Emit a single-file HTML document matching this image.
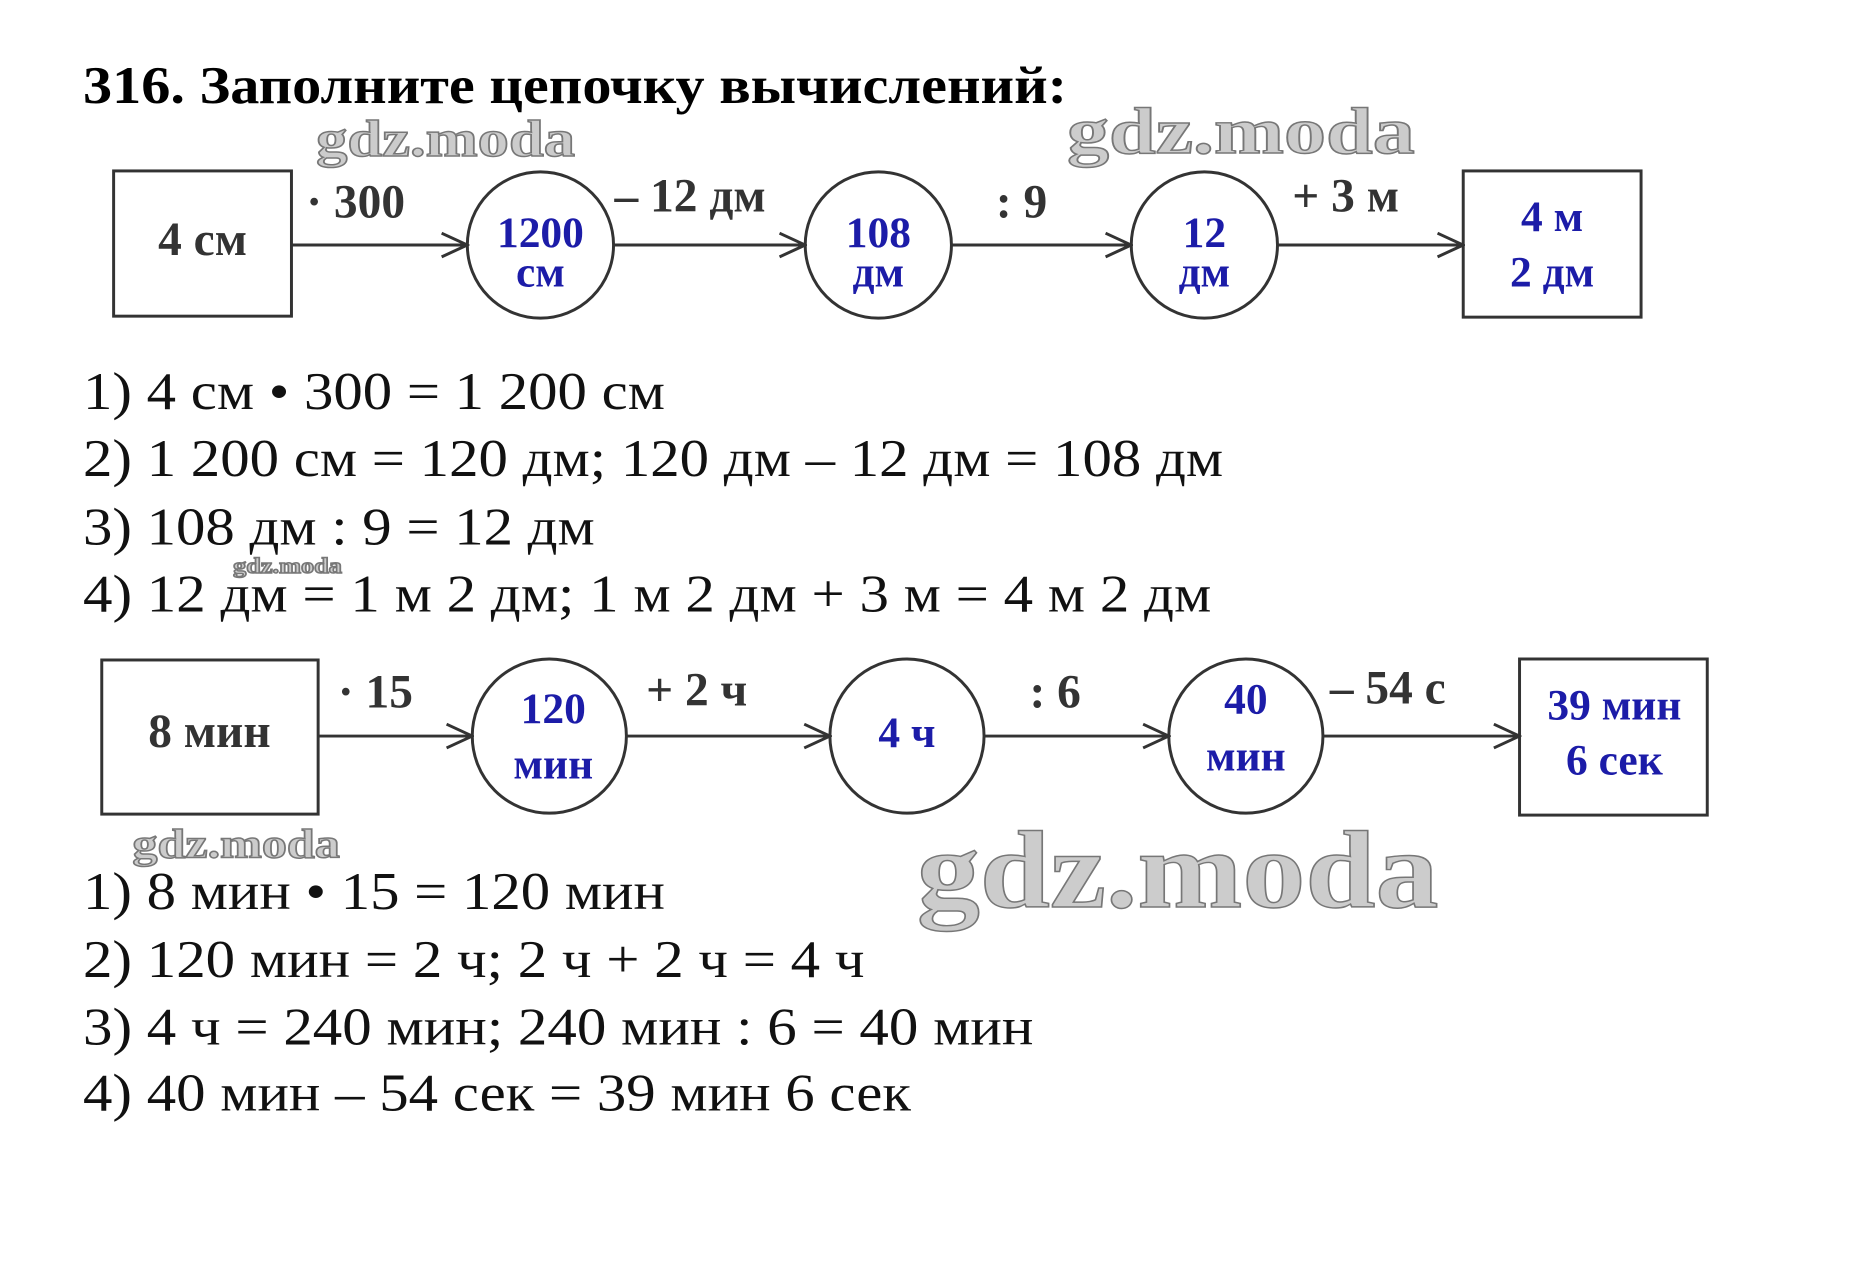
<!DOCTYPE html>
<html><head><meta charset="utf-8"><style>
html,body{margin:0;padding:0;background:#fff;}
svg{display:block;}
</style></head><body>
<svg width="1860" height="1271" viewBox="0 0 1860 1271" xmlns="http://www.w3.org/2000/svg" font-family="Liberation Serif, serif">
<defs>
<marker id="a" markerWidth="30" markerHeight="30" refX="28" refY="15" orient="auto" markerUnits="userSpaceOnUse">
<path d="M2,3 L28,15 L2,27" fill="none" stroke="#333" stroke-width="3"/>
</marker>
</defs>
<g transform="scale(0.988)">
<text x="84" y="104" font-size="54" font-weight="bold" textLength="996" lengthAdjust="spacingAndGlyphs">316. Заполните цепочку вычислений:</text>
<g fill="#ccc" stroke="#777" stroke-width="1.5" font-weight="bold">
<text x="320" y="158" font-size="52" textLength="262" lengthAdjust="spacingAndGlyphs">gdz.moda</text>
<text x="1080" y="155" font-size="66" textLength="352" lengthAdjust="spacingAndGlyphs">gdz.moda</text>
<text x="134" y="868" font-size="42" textLength="210" lengthAdjust="spacingAndGlyphs">gdz.moda</text>
<text x="928" y="918" font-size="112" textLength="528" lengthAdjust="spacingAndGlyphs">gdz.moda</text>
<text x="236" y="580" font-size="22" textLength="110" lengthAdjust="spacingAndGlyphs">gdz.moda</text>
</g>
<g stroke="#333" stroke-width="3" fill="none">
<rect x="115" y="173" width="180" height="147"/>
<circle cx="547" cy="248" r="74"/>
<circle cx="889" cy="248" r="74"/>
<circle cx="1219" cy="248" r="74"/>
<rect x="1481" y="173" width="180" height="148"/>
<line x1="295" y1="248" x2="473" y2="248" marker-end="url(#a)"/>
<line x1="621" y1="248" x2="815" y2="248" marker-end="url(#a)"/>
<line x1="963" y1="248" x2="1145" y2="248" marker-end="url(#a)"/>
<line x1="1293" y1="248" x2="1481" y2="248" marker-end="url(#a)"/>
</g>
<g font-size="48" font-weight="bold" fill="#333">
<text x="205" y="258" text-anchor="middle">4 см</text>
<text x="310" y="220">· 300</text>
<text x="622" y="214">– 12 дм</text>
<text x="1008" y="220">: 9</text>
<text x="1308" y="214">+ 3 м</text>
</g>
<g font-size="44" font-weight="bold" fill="#1c1ca8" text-anchor="middle">
<text x="547" y="250">1200</text><text x="547" y="290">см</text>
<text x="889" y="250">108</text><text x="889" y="290">дм</text>
<text x="1219" y="250">12</text><text x="1219" y="290">дм</text>
<text x="1571" y="234">4 м</text><text x="1571" y="290">2 дм</text>
</g>
<g font-size="54" fill="#111" lengthAdjust="spacingAndGlyphs">
<text x="84" y="414" textLength="589" lengthAdjust="spacingAndGlyphs">1) 4 см • 300 = 1 200 см</text>
<text x="84" y="482" textLength="1154" lengthAdjust="spacingAndGlyphs">2) 1 200 см = 120 дм; 120 дм – 12 дм = 108 дм</text>
<text x="84" y="551" textLength="518" lengthAdjust="spacingAndGlyphs">3) 108 дм : 9 = 12 дм</text>
<text x="84" y="619" textLength="1142" lengthAdjust="spacingAndGlyphs">4) 12 дм = 1 м 2 дм; 1 м 2 дм + 3 м = 4 м 2 дм</text>
</g>
<g stroke="#333" stroke-width="3" fill="none">
<rect x="103" y="668" width="219" height="156"/>
<circle cx="556" cy="745" r="78"/>
<circle cx="918" cy="745" r="78"/>
<circle cx="1261" cy="745" r="78"/>
<rect x="1538" y="667" width="190" height="158"/>
<line x1="322" y1="745" x2="478" y2="745" marker-end="url(#a)"/>
<line x1="634" y1="745" x2="840" y2="745" marker-end="url(#a)"/>
<line x1="996" y1="745" x2="1183" y2="745" marker-end="url(#a)"/>
<line x1="1339" y1="745" x2="1538" y2="745" marker-end="url(#a)"/>
</g>
<g font-size="48" font-weight="bold" fill="#333">
<text x="212" y="756" text-anchor="middle">8 мин</text>
<text x="342" y="716">· 15</text>
<text x="654" y="714">+ 2 ч</text>
<text x="1042" y="716">: 6</text>
<text x="1346" y="712">– 54 с</text>
</g>
<g font-size="44" font-weight="bold" fill="#1c1ca8" text-anchor="middle">
<text x="560" y="732">120</text><text x="560" y="788">мин</text>
<text x="918" y="756">4 ч</text>
<text x="1261" y="722">40</text><text x="1261" y="780">мин</text>
<text x="1634" y="728">39 мин</text><text x="1634" y="784">6 сек</text>
</g>
<g font-size="54" fill="#111">
<text x="84" y="920" textLength="589" lengthAdjust="spacingAndGlyphs">1) 8 мин • 15 = 120 мин</text>
<text x="84" y="989" textLength="791" lengthAdjust="spacingAndGlyphs">2) 120 мин = 2 ч; 2 ч + 2 ч = 4 ч</text>
<text x="84" y="1057" textLength="962" lengthAdjust="spacingAndGlyphs">3) 4 ч = 240 мин; 240 мин : 6 = 40 мин</text>
<text x="84" y="1124" textLength="838" lengthAdjust="spacingAndGlyphs">4) 40 мин – 54 сек = 39 мин 6 сек</text>
</g>
</g>
</svg>
</body></html>
